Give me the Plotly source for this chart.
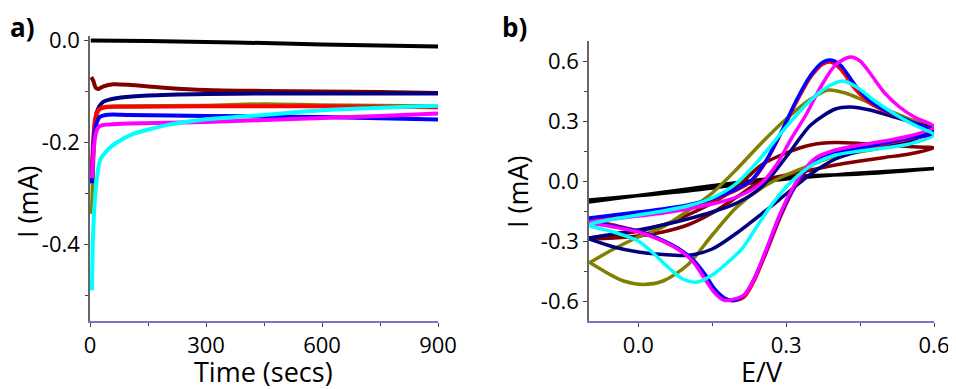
import plotly.graph_objects as go

# ---- panel a: chronoamperometry, time (s) vs current (mA) ----
t_black = [2, 150, 300, 450, 600, 750, 900]
i_black = [0.0, -0.001, -0.003, -0.005, -0.008, -0.010, -0.012]

t_maroon = [3, 8, 15, 22, 35, 60, 100, 200, 300, 450, 600, 750, 900]
i_maroon = [-0.072, -0.078, -0.093, -0.095, -0.090, -0.086, -0.087, -0.093, -0.097, -0.099, -0.100, -0.101, -0.103]

t_navy = [5, 8, 12, 18, 25, 35, 50, 80, 150, 300, 450, 600, 750, 900]
i_navy = [-0.28, -0.22, -0.17, -0.14, -0.128, -0.12, -0.116, -0.112, -0.108, -0.105, -0.104, -0.104, -0.104, -0.104]

t_olive = [5, 8, 12, 18, 25, 40, 80, 300, 450, 600, 900]
i_olive = [-0.34, -0.25, -0.18, -0.145, -0.135, -0.13, -0.129, -0.128, -0.125, -0.127, -0.129]

t_red = [5, 8, 12, 18, 25, 40, 60, 100, 300, 600, 900]
i_red = [-0.25, -0.2, -0.16, -0.14, -0.134, -0.131, -0.130, -0.130, -0.129, -0.129, -0.131]

t_blue = [5, 8, 12, 18, 25, 40, 60, 100, 300, 600, 900]
i_blue = [-0.28, -0.22, -0.18, -0.16, -0.150, -0.146, -0.145, -0.146, -0.148, -0.150, -0.155]

t_magenta = [5, 8, 12, 18, 25, 40, 60, 100, 300, 450, 600, 750, 900]
i_magenta = [-0.27, -0.23, -0.195, -0.175, -0.168, -0.165, -0.164, -0.163, -0.160, -0.156, -0.152, -0.148, -0.143]

t_cyan = [5, 8, 15, 26, 45, 69, 112, 198, 284, 450, 600, 750, 900]
i_cyan = [-0.49, -0.38, -0.29, -0.235, -0.215, -0.2, -0.183, -0.166, -0.156, -0.146, -0.137, -0.132, -0.128]

# ---- panel b: cyclic voltammograms, E (V) vs current (mA) ----
e_black = [-0.1, 0.1, 0.3, 0.45, 0.6, 0.45, 0.3, 0.1, -0.1]
i_black_cv = [-0.095, -0.05, 0.01, 0.04, 0.062, 0.035, 0.02, -0.04, -0.105]

e_maroon = [-0.1, -0.05, 0.0, 0.05, 0.1, 0.15, 0.2, 0.25, 0.3, 0.35, 0.4, 0.45, 0.5, 0.55, 0.6,
            0.55, 0.5, 0.45, 0.4, 0.35, 0.3, 0.25, 0.2, 0.15, 0.1, 0.05, 0.0, -0.05, -0.1]
i_maroon_cv = [-0.285, -0.27, -0.25, -0.22, -0.17, -0.11, -0.03, 0.08, 0.14, 0.18, 0.192, 0.188, 0.18, 0.172, 0.165,
               0.135, 0.118, 0.1, 0.08, 0.055, 0.03, 0.0, -0.08, -0.16, -0.22, -0.255, -0.275, -0.285, -0.29]

e_navy = [-0.1, -0.05, 0.0, 0.05, 0.1, 0.15, 0.2, 0.25, 0.3, 0.35, 0.4, 0.43, 0.47, 0.52, 0.56, 0.6,
          0.55, 0.5, 0.45, 0.4, 0.35, 0.3, 0.25, 0.2, 0.15, 0.1, 0.05, 0.0, -0.05, -0.1]
i_navy_cv = [-0.285, -0.265, -0.245, -0.22, -0.19, -0.155, -0.11, -0.03, 0.12, 0.28, 0.36, 0.37, 0.355, 0.32, 0.29, 0.26,
             0.2, 0.175, 0.15, 0.11, 0.035, -0.065, -0.165, -0.26, -0.34, -0.372, -0.368, -0.355, -0.33, -0.29]

e_olive = [-0.1, -0.05, 0.0, 0.05, 0.1, 0.15, 0.2, 0.25, 0.3, 0.35, 0.385, 0.42, 0.46, 0.5, 0.55, 0.6,
           0.5, 0.4, 0.35, 0.3, 0.25, 0.2, 0.15, 0.1, 0.05, 0.01, -0.03, -0.07, -0.1]
i_olive_cv = [-0.41, -0.34, -0.28, -0.23, -0.15, -0.06, 0.06, 0.19, 0.31, 0.41, 0.455, 0.44, 0.4, 0.36, 0.31, 0.26,
              0.17, 0.125, 0.08, 0.03, -0.035, -0.13, -0.27, -0.42, -0.5, -0.517, -0.5, -0.45, -0.405]

e_fast = [-0.1, -0.05, 0.0, 0.05, 0.1, 0.15, 0.2, 0.23, 0.26, 0.29, 0.32, 0.35, 0.375, 0.39, 0.41, 0.44, 0.47, 0.5, 0.55, 0.6,
          0.55, 0.5, 0.45, 0.4, 0.36, 0.335, 0.31, 0.285, 0.26, 0.235, 0.215, 0.195, 0.175, 0.155, 0.135, 0.11, 0.08, 0.04, 0.0, -0.05, -0.1]
i_red_cv = [-0.19, -0.175, -0.16, -0.145, -0.125, -0.095, -0.045, 0.0, 0.1, 0.24, 0.39, 0.52, 0.585, 0.595, 0.56, 0.46, 0.39, 0.35, 0.3, 0.24,
            0.21, 0.185, 0.16, 0.135, 0.095, 0.035, -0.065, -0.2, -0.355, -0.5, -0.58, -0.598, -0.59, -0.55, -0.475, -0.395, -0.34, -0.29, -0.25, -0.22, -0.195]
i_blue_cv = [-0.185, -0.17, -0.155, -0.14, -0.12, -0.09, -0.04, 0.005, 0.105, 0.245, 0.4, 0.53, 0.595, 0.605, 0.58, 0.48, 0.4, 0.355, 0.3, 0.24,
             0.215, 0.19, 0.165, 0.14, 0.1, 0.04, -0.06, -0.19, -0.345, -0.49, -0.57, -0.597, -0.585, -0.54, -0.465, -0.39, -0.335, -0.285, -0.25, -0.225, -0.2]

e_magenta = [-0.1, -0.05, 0.0, 0.05, 0.1, 0.15, 0.2, 0.25, 0.28, 0.31, 0.34, 0.37, 0.4, 0.43, 0.45, 0.47, 0.5, 0.53, 0.56, 0.6,
             0.55, 0.5, 0.45, 0.4, 0.36, 0.335, 0.31, 0.285, 0.26, 0.235, 0.215, 0.195, 0.175, 0.155, 0.135, 0.11, 0.08, 0.04, 0.0, -0.05, -0.1]
i_magenta_cv = [-0.205, -0.19, -0.175, -0.16, -0.14, -0.115, -0.08, -0.01, 0.08, 0.21, 0.33, 0.47, 0.58, 0.62, 0.6, 0.54, 0.44, 0.37, 0.32, 0.27,
                0.225, 0.2, 0.18, 0.155, 0.115, 0.05, -0.05, -0.18, -0.34, -0.49, -0.57, -0.59, -0.597, -0.56, -0.49, -0.4, -0.34, -0.29, -0.255, -0.23, -0.21]

e_cyan = [-0.1, -0.05, 0.0, 0.05, 0.1, 0.15, 0.2, 0.25, 0.3, 0.34, 0.38, 0.415, 0.44, 0.48, 0.52, 0.56, 0.6,
          0.55, 0.5, 0.45, 0.4, 0.36, 0.33, 0.3, 0.27, 0.24, 0.21, 0.18, 0.15, 0.12, 0.09, 0.06, 0.03, 0.0, -0.05, -0.1]
i_cyan_cv = [-0.22, -0.19, -0.17, -0.15, -0.125, -0.085, -0.01, 0.12, 0.27, 0.38, 0.465, 0.5, 0.475, 0.4, 0.335, 0.28, 0.23,
             0.185, 0.165, 0.15, 0.13, 0.09, 0.04, -0.03, -0.12, -0.23, -0.34, -0.41, -0.47, -0.505, -0.49, -0.43, -0.36, -0.3, -0.255, -0.22]

a_ticks = [0, 300, 600, 900]
a_yticks = [0.0, -0.2, -0.4]
a_yticktext = ["0.0", "-0.2", "-0.4"]
b_xticks = [0.0, 0.3, 0.6]
b_xticktext = ["0.0", "0.3", "0.6"]
b_yticks = [0.6, 0.3, 0.0, -0.3, -0.6]
b_yticktext = ["0.6", "0.3", "0.0", "-0.3", "-0.6"]

# the page puts the figure 8 px in from the window corner, so size it to fit
OX, OY = 8, 8
W, H = 956 - OX, 389 - OY
TICK_FONT = dict(family="Open Sans", size=22, color="black")
TITLE_FONT = dict(family="Open Sans", size=27, color="black")
LABEL_FONT = dict(family="Open Sans", size=26, color="black")


def fx(px):
    return (px - OX) / W


def fy(py):
    return 1 - (py - OY) / H


fig = go.Figure()

panel_a = [
    (t_black, i_black, "#000000"),
    (t_maroon, i_maroon, "#800000"),
    (t_navy, i_navy, "#000080"),
    (t_olive, i_olive, "#808000"),
    (t_red, i_red, "#ff0000"),
    (t_blue, i_blue, "#0000ff"),
    (t_magenta, i_magenta, "#ff00ff"),
    (t_cyan, i_cyan, "#00ffff"),
]
for x, y, c in panel_a:
    fig.add_trace(go.Scatter(x=x, y=y, mode="lines", xaxis="x", yaxis="y",
                             line=dict(color=c, width=4, shape="spline", smoothing=0.6),
                             showlegend=False))

panel_b = [
    (e_black, i_black_cv, "#000000"),
    (e_maroon, i_maroon_cv, "#800000"),
    (e_olive, i_olive_cv, "#808000"),
    (e_navy, i_navy_cv, "#000080"),
    (e_fast, i_red_cv, "#ff0000"),
    (e_fast, i_blue_cv, "#0000ff"),
    (e_magenta, i_magenta_cv, "#ff00ff"),
    (e_cyan, i_cyan_cv, "#00ffff"),
]
for x, y, c in panel_b:
    fig.add_trace(go.Scatter(x=x, y=y, mode="lines", xaxis="x2", yaxis="y2",
                             line=dict(color=c, width=3.5, shape="spline", smoothing=0.8),
                             showlegend=False))

axis_common = dict(showline=True, linewidth=1.5, ticks="outside", ticklen=4, tickwidth=1.2,
                   tickcolor="#444444", showgrid=False, zeroline=False, tickfont=TICK_FONT,
                   automargin=False)


def note(text, x, y, font, angle=0):
    # text centred on a pixel position of the reference picture
    return dict(text=text, x=fx(x), y=fy(y), xref="paper", yref="paper",
                xanchor="center", yanchor="middle", showarrow=False,
                textangle=angle, font=font)


fig.update_layout(
    template="none",
    width=W, height=H,
    margin=dict(l=0, r=0, t=0, b=0, pad=0, autoexpand=False),
    paper_bgcolor="white", plot_bgcolor="white",
    xaxis=dict(domain=[fx(90), fx(438)], range=[0, 900], anchor="y",
               tickvals=a_ticks, linecolor="#7a74c4",
               minor=dict(ticks="outside", ticklen=3, tickcolor="#444444", tickvals=[150, 450, 750]),
               **axis_common),
    yaxis=dict(domain=[fy(321), fy(36.4)], range=[-0.55, 0.008], anchor="x",
               tickvals=a_yticks, ticktext=a_yticktext, linecolor="#666666",
               minor=dict(ticks="outside", ticklen=3, tickcolor="#444444", tickvals=[-0.1, -0.3, -0.5]),
               **axis_common),
    xaxis2=dict(domain=[fx(589), fx(934)], range=[-0.1, 0.6], anchor="y2",
                tickvals=b_xticks, ticktext=b_xticktext, linecolor="#7a74c4",
                minor=dict(ticks="outside", ticklen=3, tickcolor="#444444", tickvals=[0.15, 0.45]),
                **axis_common),
    yaxis2=dict(domain=[fy(321), fy(41)], range=[-0.7, 0.7], anchor="x2",
                tickvals=b_yticks, ticktext=b_yticktext, linecolor="#666666",
                minor=dict(ticks="outside", ticklen=3, tickcolor="#444444", tickvals=[0.45, 0.15, -0.15, -0.45]),
                **axis_common),
    annotations=[
        note("<b>a)</b>", 22, 27, LABEL_FONT),
        note("<b>b)</b>", 515, 27, LABEL_FONT),
        note("Time (secs)", 263, 371, TITLE_FONT),
        note("I (mA)", 27, 202, TITLE_FONT, -90),
        note("E/V", 762, 371, TITLE_FONT),
        note("I (mA)", 517, 192, TITLE_FONT, -90),
    ],
)

fig.write_html("out.html")
